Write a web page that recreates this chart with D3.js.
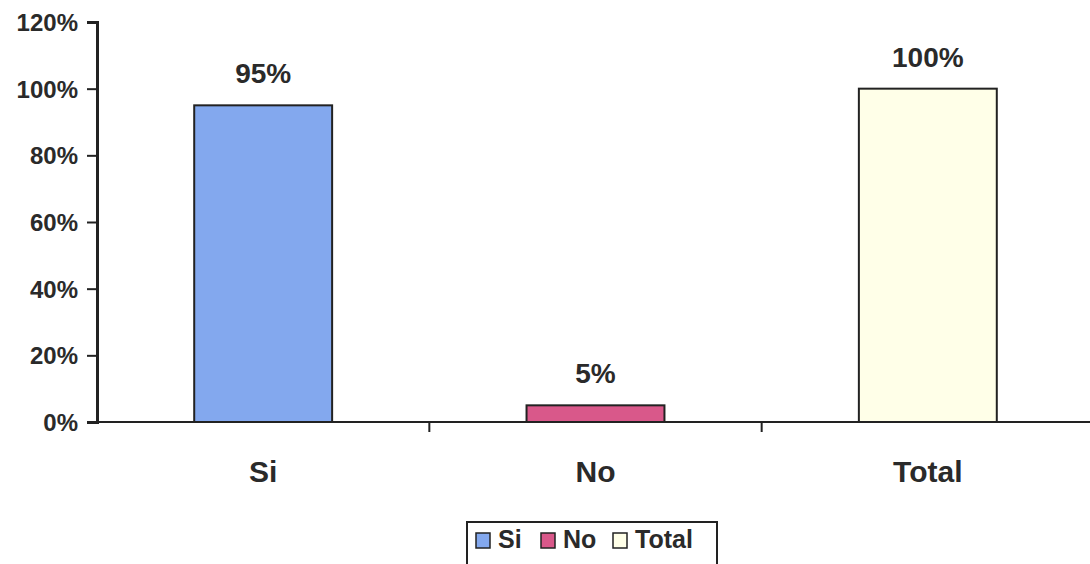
<!DOCTYPE html>
<html>
<head>
<meta charset="utf-8">
<script src="https://cdn.jsdelivr.net/npm/d3@7"></script>
<style>
  html, body { margin: 0; padding: 0; background: #fff; }
  svg text { font-family: "Liberation Sans", Arial, sans-serif; font-weight: bold; fill: #2a2a2a; }
</style>
</head>
<body>
<svg id="chart" width="1090" height="564"></svg>
<script>
// Respuestas por categoría (porcentaje)
const categories = ["Si", "No", "Total"];
const values = [95, 5, 100];
const colors = ["#83A8EE", "#D9588A", "#FFFFE8"];
const yTicks = [0, 20, 40, 60, 80, 100, 120];

const svg = d3.select("#chart");
const ink = "#222";

const x = d3.scaleBand()
  .domain(categories)
  .range([97, 1094])
  .paddingInner(0.585)
  .paddingOuter(0.2925);

const y = d3.scaleLinear()
  .domain([0, 120])
  .range([422, 22]);

// Bars
svg.append("g").selectAll("rect")
  .data(categories)
  .join("rect")
  .attr("x", d => x(d))
  .attr("y", (d, i) => y(values[i]))
  .attr("width", x.bandwidth())
  .attr("height", (d, i) => y(0) - y(values[i]))
  .attr("fill", (d, i) => colors[i])
  .attr("stroke", ink)
  .attr("stroke-width", 2);

// Value labels
svg.append("g").selectAll("text")
  .data(categories)
  .join("text")
  .attr("x", d => x(d) + x.bandwidth() / 2)
  .attr("y", (d, i) => y(values[i]) - 22)
  .attr("text-anchor", "middle")
  .attr("font-size", 28)
  .text((d, i) => values[i] + "%");

// Y axis
const yAxis = svg.append("g")
  .attr("transform", "translate(97,0)")
  .call(d3.axisLeft(y).tickValues(yTicks).tickSize(10).tickPadding(9).tickFormat(d => d + "%"));
yAxis.select(".domain").attr("stroke", ink).attr("stroke-width", 3);
yAxis.selectAll(".tick line").attr("stroke", ink).attr("stroke-width", 2);
yAxis.selectAll(".tick text").attr("font-size", 24).attr("dy", "0.36em")
  .style("font-family", "'Liberation Sans', Arial, sans-serif").style("font-weight", "bold").attr("fill", "#2a2a2a");

// X axis line
svg.append("line")
  .attr("x1", 97).attr("x2", 1090)
  .attr("y1", y(0)).attr("y2", y(0))
  .attr("stroke", ink).attr("stroke-width", 2);

// Category separators on the x axis
const seps = categories.slice(1).map(d => x(d) - x.step() * x.paddingInner() / 2);
svg.append("g").selectAll("line")
  .data(seps)
  .join("line")
  .attr("x1", d => d).attr("x2", d => d)
  .attr("y1", y(0)).attr("y2", y(0) + 10)
  .attr("stroke", ink).attr("stroke-width", 2);

// Category labels
svg.append("g").selectAll("text")
  .data(categories)
  .join("text")
  .attr("x", d => x(d) + x.bandwidth() / 2)
  .attr("y", 482)
  .attr("text-anchor", "middle")
  .attr("font-size", 30)
  .text(d => d);

// Legend
const legend = svg.append("g");
legend.append("rect")
  .attr("x", 467).attr("y", 522)
  .attr("width", 250).attr("height", 50)
  .attr("fill", "#fff").attr("stroke", ink).attr("stroke-width", 2);

const legendX = [476, 541, 613];
const items = legend.selectAll("g.item")
  .data(categories)
  .join("g")
  .attr("class", "item")
  .attr("transform", (d, i) => `translate(${legendX[i]},533)`);
items.append("rect")
  .attr("width", 14).attr("height", 15)
  .attr("fill", (d, i) => colors[i])
  .attr("stroke", ink).attr("stroke-width", 1.5);
items.append("text")
  .attr("x", 22).attr("y", 15)
  .attr("font-size", 25)
  .text(d => d);
</script>
</body>
</html>
